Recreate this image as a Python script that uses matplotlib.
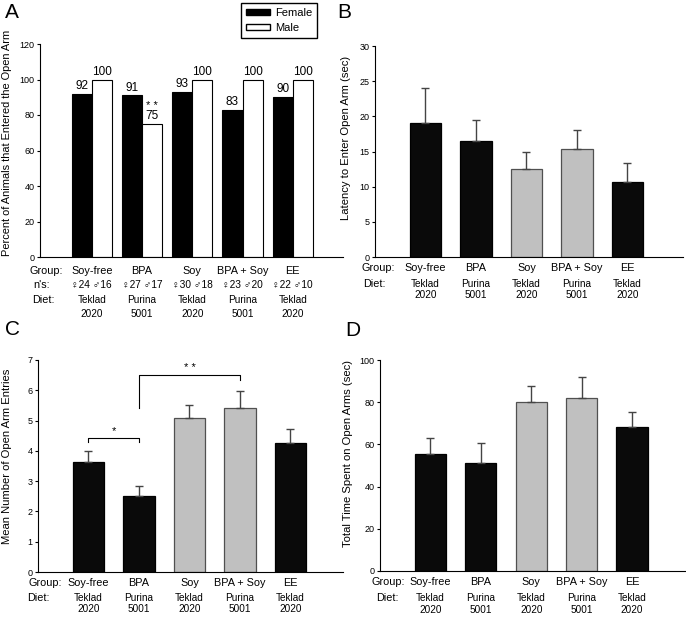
import matplotlib
matplotlib.use('Agg')
import matplotlib.pyplot as plt
from matplotlib.patches import Patch
import numpy as np

plt.rcParams['font.family'] = ['Liberation Sans', 'DejaVu Sans']

# data
groups = ['Soy-free', 'BPA', 'Soy', 'BPA + Soy', 'EE']
diet_brand = ['Teklad', 'Purina', 'Teklad', 'Purina', 'Teklad']
diet_code = ['2020', '5001', '2020', '5001', '2020']
n_female = [24, 27, 30, 23, 22]
n_male = [16, 17, 18, 20, 10]
pct_female = [92, 91, 93, 83, 90]
pct_male = [100, 75, 100, 100, 100]
latency = [19.1, 16.5, 12.5, 15.4, 10.7]
latency_err = [4.9, 3.0, 2.4, 2.6, 2.7]
entries = [3.63, 2.52, 5.1, 5.42, 4.27]
entries_err = [0.35, 0.33, 0.4, 0.56, 0.46]
time_open = [55.5, 51.0, 80.3, 82.2, 68.2]
time_err = [7.7, 9.8, 7.5, 9.8, 7.2]

bar_colors = ['#0a0a0a', '#0a0a0a', '#c0c0c0', '#c0c0c0', '#0a0a0a']
edge_colors = ['#000000', '#000000', '#505050', '#505050', '#000000']

x = np.arange(len(groups))
W, H = 686, 617
fig = plt.figure(figsize=(W / 100, H / 100), dpi=100)
GFS = 7.8   # group label size
DFS = 7.2   # diet label size


def axes_px(left, top, right, bottom):
    return fig.add_axes([left / W, 1 - bottom / H, (right - left) / W, (bottom - top) / H])


def style(ax, ylim, yticks, xlim):
    ax.spines['top'].set_visible(False)
    ax.spines['right'].set_visible(False)
    ax.set_ylim(*ylim)
    ax.set_yticks(yticks)
    ax.set_xlim(*xlim)
    ax.set_xticks([])
    ax.tick_params(axis='y', direction='out', length=2.5, width=0.8, labelsize=6.5, pad=1.5)


def bottom_rows(ax, ys, grp_x=-0.55, diet_x=-0.72):
    tr = ax.get_xaxis_transform()
    ax.text(grp_x, ys[0], 'Group:', transform=tr, ha='right', va='center', fontsize=GFS)
    ax.text(diet_x, ys[1], 'Diet:', transform=tr, ha='right', va='center', fontsize=GFS)
    for i in x:
        ax.text(i, ys[0], groups[i], transform=tr, ha='center', va='center', fontsize=GFS)
        ax.text(i, ys[1], diet_brand[i], transform=tr, ha='center', va='center', fontsize=DFS)
        ax.text(i, ys[2], diet_code[i], transform=tr, ha='center', va='center', fontsize=DFS)


# Panel A
axA = axes_px(40, 44, 343, 257)
bw = 0.4
axA.bar(x - bw / 2, pct_female, bw, color='black', edgecolor='black', linewidth=0.8)
axA.bar(x + bw / 2, pct_male, bw, color='white', edgecolor='black', linewidth=0.8)
for i in x:
    axA.text(i - bw / 2, pct_female[i] + 1, str(pct_female[i]), ha='center', va='bottom', fontsize=8.5)
    axA.text(i + bw / 2, pct_male[i] + 1, str(pct_male[i]), ha='center', va='bottom', fontsize=8.5)
axA.text(1 + bw / 2, 82, '* *', ha='center', va='bottom', fontsize=8)
style(axA, (0, 120), range(0, 121, 20), (-1.03, 5.0))
axA.set_ylabel('Percent of Animals that Entered the Open Arm', fontsize=7.9)
axA.yaxis.set_label_coords(-0.092, 0.535)
trA = axA.get_xaxis_transform()
axA.text(-0.57, -0.066, 'Group:', transform=trA, ha='right', va='center', fontsize=GFS)
axA.text(-0.83, -0.131, "n's:", transform=trA, ha='right', va='center', fontsize=GFS)
axA.text(-0.73, -0.202, 'Diet:', transform=trA, ha='right', va='center', fontsize=GFS)
for i in x:
    axA.text(i, -0.066, groups[i], transform=trA, ha='center', va='center', fontsize=GFS)
    axA.text(i, -0.131, '\u2640%d \u2642%d' % (n_female[i], n_male[i]), transform=trA,
             ha='center', va='center', fontsize=7.3)
    axA.text(i, -0.202, diet_brand[i], transform=trA, ha='center', va='center', fontsize=DFS)
    axA.text(i, -0.268, diet_code[i], transform=trA, ha='center', va='center', fontsize=DFS)

fig.legend(handles=[Patch(facecolor='black', edgecolor='black', label='Female'),
                    Patch(facecolor='white', edgecolor='black', label='Male')],
           loc='upper left', bbox_to_anchor=(241 / W, 1 - 3 / H), fontsize=8,
           frameon=True, fancybox=False, edgecolor='black', framealpha=1,
           handlelength=2.2, handleheight=0.5, handletextpad=0.4, borderpad=0.45,
           labelspacing=0.45, borderaxespad=0)

# Panel B, C, D bars
bw2 = 0.62
err_kw = dict(ecolor='#444444', elinewidth=1, capsize=3, capthick=1)


def bar_panel(ax, vals, errs):
    ax.bar(x, vals, bw2, color=bar_colors, edgecolor=edge_colors, linewidth=0.9,
           yerr=[np.zeros(len(errs)), errs], error_kw=err_kw)


axB = axes_px(375, 46, 683, 257)
bar_panel(axB, latency, latency_err)
style(axB, (0, 30), range(0, 31, 5), (-1.0, 5.1))
axB.set_ylabel('Latency to Enter Open Arm (sec)', fontsize=8.1)
axB.yaxis.set_label_coords(-0.078, 0.566)
bottom_rows(axB, (-0.052, -0.128, -0.18), -0.61, -0.78)

axC = axes_px(38, 360, 343, 572)
bar_panel(axC, entries, entries_err)
style(axC, (0, 7), range(0, 8), (-1.0, 5.04))
axC.set_ylabel('Mean Number of Open Arm Entries', fontsize=8.1)
axC.yaxis.set_label_coords(-0.085, 0.545)
bottom_rows(axC, (-0.052, -0.123, -0.175), -0.52, -0.76)
# significance brackets
axC.plot([0, 0, 1, 1], [4.3, 4.42, 4.42, 4.3], color='black', linewidth=0.8)
axC.text(0.5, 4.5, '*', ha='center', va='bottom', fontsize=8)
axC.plot([1, 1, 3, 3], [5.42, 6.5, 6.5, 6.35], color='black', linewidth=0.8)
axC.text(2, 6.58, '* *', ha='center', va='bottom', fontsize=8)

axD = axes_px(380, 360, 686, 571)
bar_panel(axD, time_open, time_err)
style(axD, (0, 100), range(0, 101, 20), (-1.0, 5.07))
axD.set_ylabel('Total Time Spent on Open Arms (sec)', fontsize=8.1)
axD.yaxis.set_label_coords(-0.088, 0.557)
bottom_rows(axD, (-0.052, -0.128, -0.185), -0.51, -0.64)

# panel letters
fig.text(5 / W, 1 - 13 / H, 'A', fontsize=15, va='center', ha='left')
fig.text(337 / W, 1 - 13 / H, 'B', fontsize=15, va='center', ha='left')
fig.text(5 / W, 1 - 330 / H, 'C', fontsize=15, va='center', ha='left')
fig.text(345 / W, 1 - 331 / H, 'D', fontsize=15, va='center', ha='left')

fig.savefig('out.png', dpi=100)
